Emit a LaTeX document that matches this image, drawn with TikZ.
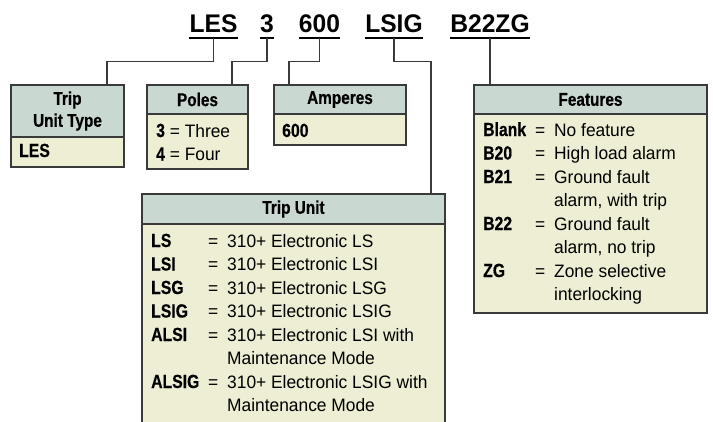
\documentclass[tikz,border=0pt]{standalone}
\usepackage{fontspec}
\usepackage{array}
\setmainfont{Liberation Sans}[FakeStretch=0.965]
\newfontfamily\condbf{Liberation Sans}[FakeStretch=0.83,FakeBold=0.5]
\usetikzlibrary{positioning}
\definecolor{hdrgray}{RGB}{201,217,210}
\definecolor{bodycream}{RGB}{237,238,211}
\definecolor{edgegray}{RGB}{58,58,58}
\newcommand{\lbl}[1]{{\fontsize{19}{23.5}\selectfont\condbf\bfseries #1}}

\begin{document}
\begin{tikzpicture}[
  x=1pt,y=-1pt,
  every node/.style={font=\fontsize{18}{23.5}\selectfont},
  title/.style={font=\fontsize{25.5}{30}\selectfont\bfseries,inner xsep=0pt,
                inner ysep=6pt,text depth=0pt,anchor=base},
  uline/.style={line width=2.4pt,black},
  hdr/.style={draw=edgegray,fill=hdrgray,line width=1.2pt,anchor=north west,
              outer sep=0pt,inner sep=0pt,align=center,
              font=\fontsize{18.5}{22}\selectfont\condbf\bfseries},
  bodybox/.style={draw=edgegray,fill=bodycream,line width=1.2pt,anchor=north west,
                  outer sep=0pt,inner sep=0pt},
  bodytxt/.style={anchor=base west,inner sep=0pt},
  link/.style={draw=edgegray,line width=1.3pt},
]
  \useasboundingbox (0,0) rectangle (713,421);
  \clip (0,0) rectangle (713,421);

  % Catalog number
  \node[title] (les)  at (213.5,32) {LES};
  \node[title] (three) at (267,32) {3};
  \node[title] (six)  at (319.5,32) {600};
  \node[title] (lsig) at (394,32) {LSIG};
  \node[title] (bzg)  at (490,32) {B22ZG};
  \foreach \w in {les,three,six,lsig,bzg}
    \draw[uline] (\w.south west) -- (\w.south east);

  % Trip unit type
  \node[hdr,minimum width=113pt,minimum height=52pt] (tuth) at (11,85) {Trip\\Unit Type};
  \node[bodybox,minimum width=113pt,minimum height=30pt] (tutb) at (tuth.south west) {};
  \node[bodytxt] (tutt) at ([xshift=8pt,yshift=-20pt]tutb.north west) {\lbl{LES}};

  % Poles
  \node[hdr,minimum width=101pt,minimum height=29pt] (polesh) at (147,85) {Poles};
  \node[bodybox,minimum width=101pt,minimum height=55pt] (polesb) at (polesh.south west) {};
  \node[bodytxt] (polest) at ([xshift=9pt,yshift=-23pt]polesb.north west)
    {\begin{tabular}[t]{@{}l@{}}\lbl{3} = Three\\\lbl{4} = Four\end{tabular}};

  % Amperes
  \node[hdr,minimum width=132pt,minimum height=29pt] (ampsh) at (274,85) {Amperes};
  \node[bodybox,minimum width=132pt,minimum height=31pt] (ampsb) at (ampsh.south west) {};
  \node[bodytxt] (ampst) at ([xshift=8pt,yshift=-23pt]ampsb.north west) {\lbl{600}};

  % Features
  \node[hdr,minimum width=233pt,minimum height=29pt] (feath) at (474,85) {Features};
  \node[bodybox,minimum width=233pt,minimum height=199pt] (featb) at (feath.south west) {};
  \node[bodytxt] (featt) at ([xshift=9pt,yshift=-22pt]featb.north west)
    {\begin{tabular}[t]{@{}w{l}{52pt}@{}w{l}{19pt}@{}l@{}}
      \lbl{Blank} & = & No feature\\
      \lbl{B20} & = & High load alarm\\
      \lbl{B21} & = & Ground fault\\
                &   & alarm, with trip\\
      \lbl{B22} & = & Ground fault\\
                &   & alarm, no trip\\
      \lbl{ZG}  & = & Zone selective\\
                &   & interlocking
    \end{tabular}};

  % Trip unit
  \node[hdr,minimum width=303pt,minimum height=30pt] (triph) at (142,194) {Trip Unit};
  \node[bodybox,minimum width=303pt,minimum height=215pt] (tripb) at (triph.south west) {};
  \node[bodytxt] (tript) at ([xshift=9pt,yshift=-23pt]tripb.north west)
    {\begin{tabular}[t]{@{}w{l}{57pt}@{}w{l}{19pt}@{}l@{}}
      \lbl{LS}    & = & 310+ Electronic LS\\
      \lbl{LSI}   & = & 310+ Electronic LSI\\
      \lbl{LSG}   & = & 310+ Electronic LSG\\
      \lbl{LSIG}  & = & 310+ Electronic LSIG\\
      \lbl{ALSI}  & = & 310+ Electronic LSI with\\
                  &   & Maintenance Mode\\
      \lbl{ALSIG} & = & 310+ Electronic LSIG with\\
                  &   & Maintenance Mode
    \end{tabular}};

  % Leader lines
  \draw[link] (les.south) -- ++(0,23) -| ([xshift=96pt]tuth.north west);
  \draw[link] (three.south) -- ++(0,23) -| ([xshift=85pt]polesh.north west);
  \draw[link] (six.south) -- ++(0,23) -| ([xshift=15pt]ampsh.north west);
  \draw[link] (lsig.south) -- ++(0,23) -| ([xshift=289pt]triph.north west);
  \draw[link] (bzg.south) -- (bzg.south |- feath.north);
\end{tikzpicture}
\end{document}
